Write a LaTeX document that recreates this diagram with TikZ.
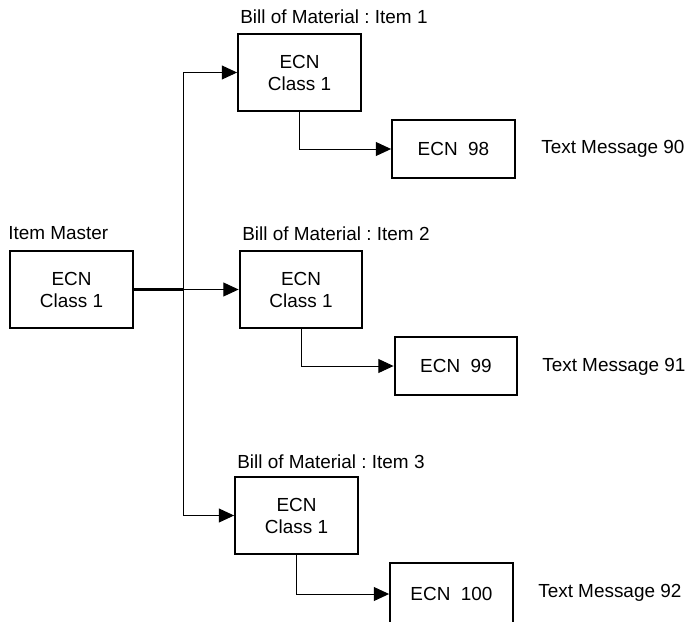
\documentclass[tikz,border=0pt]{standalone}
\usepackage{fontspec}
\setmainfont{Liberation Sans}
\usetikzlibrary{arrows.meta}
\frenchspacing
\begin{document}
\begin{tikzpicture}[x=0.75pt,y=-0.75pt,
  font=\fontsize{14.2pt}{16.5pt}\selectfont,
  box/.style={draw, line width=1.6pt, align=center, inner sep=0pt,
    minimum width=92pt, minimum height=58pt},
  smallbox/.style={draw, line width=1.6pt, align=center, inner sep=0pt,
    minimum width=92pt, minimum height=43pt},
  caption/.style={anchor=west, inner sep=0pt},
  link/.style={line width=0.75pt, -{Triangle[length=11.5pt,width=10.5pt]}},
  feed/.style={line width=0.75pt}]
\clip (0,0) rectangle (688,621);

% item master
\node[box] (im) at (71.5,289.5) {ECN\\Class 1};
\node[caption] (imlab) at (8,233) {Item Master};

% bills of material
\node[box] (b1) at (299.5,72.5) {ECN\\Class 1};
\node[caption] (b1lab) at (240,17) {Bill of Material : Item 1};
\node[box] (b2) at (301,289.5) {ECN\\Class 1};
\node[caption] (b2lab) at (242,234) {Bill of Material : Item 2};
\node[box] (b3) at (296.5,515.5) {ECN\\Class 1};
\node[caption] (b3lab) at (237,462) {Bill of Material : Item 3};

% change notices (the last one runs past the lower edge)
\node[smallbox] (e1) at (453.5,149) {ECN~~98};
\node[caption] (t1) at (541,149) {Text Message 90};
\node[smallbox] (e2) at (456,366) {ECN~~99};
\node[caption] (t2) at (542,367) {Text Message 91};
\node[smallbox, minimum height=46pt] (e3) at (451.5,594) {ECN~~100};
\node[caption] (t3) at (538,593) {Text Message 92};

% distribution from the item master
\coordinate (j) at (183,289.5);
\draw[line width=1.7pt] (im.east) -- (j);
\draw[feed] (j |- b1.west) -- (j |- b3.west);
\draw[link] (j) -- (b2.west);
\draw[link] (j |- b1.west) -- (b1.west);
\draw[link] (j |- b3.west) -- (b3.west);

% each bill to its change notice
\draw[link] (b1.south) |- (e1.west);
\draw[link] (b2.south) |- (e2.west);
\draw[link] (b3.south) |- (e3.west);
\end{tikzpicture}
\end{document}
